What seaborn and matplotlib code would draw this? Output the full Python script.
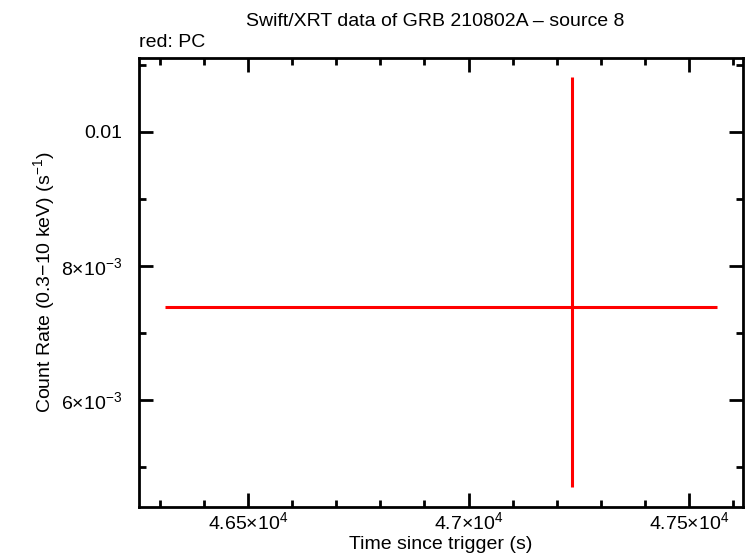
import matplotlib
matplotlib.use("Agg")
import matplotlib.pyplot as plt
import seaborn as sns
from matplotlib.ticker import MultipleLocator, FixedLocator, FixedFormatter

# data (one PC point)
time_s = [47234]
time_lo = [923]   # left half-width of the bin
time_hi = [330]   # right half-width
rate = [0.00739]
rate_lo = [0.00269]
rate_hi = [0.00343]

xtick_vals = [46500, 47000, 47500]
xtick_labels = ["4.65\u00d710$^{\\mathregular{4}}$", "4.7\u00d710$^{\\mathregular{4}}$",
                "4.75\u00d710$^{\\mathregular{4}}$"]
ytick_vals = [0.006, 0.008, 0.01]
ytick_labels = ["6\u00d710$^{\\mathregular{-3}}$", "8\u00d710$^{\\mathregular{-3}}$", "0.01"]

sns.set_style("ticks")
plt.rcParams['font.family'] = ['Liberation Sans', 'DejaVu Sans']
plt.rcParams['mathtext.fontset'] = 'custom'
plt.rcParams['mathtext.rm'] = 'Liberation Sans'
plt.rcParams['mathtext.it'] = 'Liberation Sans:italic'
plt.rcParams['mathtext.bf'] = 'Liberation Sans:bold'
plt.rcParams['text.color'] = 'black'
plt.rcParams['axes.labelcolor'] = 'black'
plt.rcParams['xtick.color'] = 'black'
plt.rcParams['ytick.color'] = 'black'

FS = 14

fig = plt.figure(figsize=(7.46, 5.58), dpi=100)
ax = fig.add_axes([0.1863, 0.0914, 0.8097, 0.8047])

ax.errorbar(time_s, rate, xerr=[time_lo, time_hi], yerr=[rate_lo, rate_hi],
            fmt='none', ecolor='red', elinewidth=2.2, capsize=0)

ax.set_xlim(46252, 47623)
ax.set_ylim(0.0044, 0.0111)

ax.xaxis.set_major_locator(FixedLocator(xtick_vals))
ax.xaxis.set_major_formatter(FixedFormatter(xtick_labels))
ax.xaxis.set_minor_locator(MultipleLocator(100))
ax.yaxis.set_major_locator(FixedLocator(ytick_vals))
ax.yaxis.set_major_formatter(FixedFormatter(ytick_labels))
ax.yaxis.set_minor_locator(MultipleLocator(0.001))

ax.tick_params(which='both', direction='in', top=True, right=True, labelsize=FS,
               color='black', width=2)
ax.tick_params(which='major', length=10)
ax.tick_params(axis='x', which='major', pad=3)
ax.tick_params(axis='y', which='major', pad=12)
ax.tick_params(which='minor', length=5)
for s in ax.spines.values():
    s.set_linewidth(2)
    s.set_color('black')

ax.set_xlabel("Time since trigger (s)", fontsize=FS, labelpad=2)
ax.set_ylabel(r"Count Rate (0.3$-$10 keV) (s$^{\mathregular{-1}}$)", fontsize=FS, labelpad=3)
fig.text(0.583, 0.962, "Swift/XRT data of GRB 210802A \u2013 source 8", ha='center', va='center',
         fontsize=FS)
fig.text(0.1863, 0.923, "red: PC", ha='left', va='center', fontsize=FS)

fig.savefig("out.png", dpi=100)
